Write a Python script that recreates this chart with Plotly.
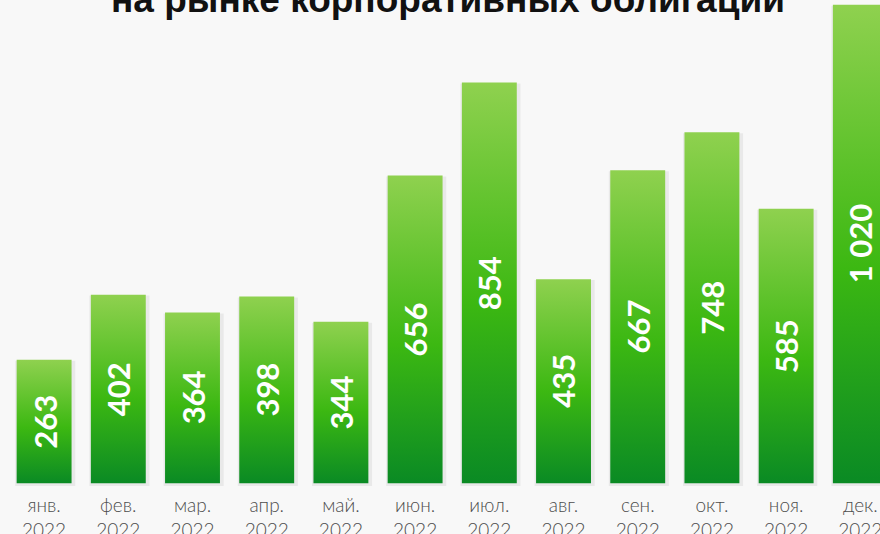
import plotly.graph_objects as go

months = ["янв.", "фев.", "мар.", "апр.", "май.", "июн.", "июл.", "авг.", "сен.", "окт.", "ноя.", "дек."]
year = "2022"
values = [263, 402, 364, 398, 344, 656, 854, 435, 667, 748, 585, 1020]
title_text = "на рынке корпоративных облигаций"

bar_w = 0.74
green_scale = [[0, "#0a8a24"], [0.45, "#3cb812"], [1, "#8fd14f"]]

fig = go.Figure()

# мягкая тень под столбцами
for i, v in enumerate(values):
    x0, x1 = i - bar_w / 2 - 0.02, i + bar_w / 2 + 0.05
    fig.add_trace(go.Scatter(
        x=[x0, x1, x1, x0, x0],
        y=[-6, -6, v - 2, v - 2, -6],
        mode="lines",
        line=dict(width=0),
        fill="toself",
        fillcolor="rgba(0,0,0,0.06)",
        hoverinfo="skip",
        showlegend=False,
    ))

# градиентные столбцы
for i, v in enumerate(values):
    x0, x1 = i - bar_w / 2, i + bar_w / 2
    fig.add_trace(go.Scatter(
        x=[x0, x1, x1, x0, x0],
        y=[0, 0, v, v, 0],
        mode="lines",
        line=dict(width=0),
        fill="toself",
        fillgradient=dict(type="vertical", colorscale=green_scale),
        hoverinfo="skip",
        showlegend=False,
    ))

# подписи значений (по центру столбца, повернуты)
for i, v in enumerate(values):
    fig.add_annotation(
        x=i, y=v / 2,
        text=f"{v:,}".replace(",", " "),
        textangle=-90,
        showarrow=False,
        font=dict(family="Lato", size=31, color="white", weight="bold"),
    )

fig.add_annotation(
    text=title_text,
    xref="paper", yref="paper",
    x=0.505, y=1 - 22 / 487,
    xanchor="center", yanchor="bottom",
    showarrow=False,
    font=dict(family="Liberation Sans", size=37, color="#111111", weight="bold"),
)

fig.update_layout(
    width=880, height=534,
    margin=dict(l=7, r=0, t=0, b=47, autoexpand=False),
    paper_bgcolor="#f8f8f8",
    plot_bgcolor="#f8f8f8",
    xaxis=dict(
        range=[-0.5, 11.265],
        tickvals=list(range(len(months))),
        ticktext=[f"{m}<br>{year}" for m in months],
        tickfont=dict(family="Lato", size=19, color="#4d4d4d", weight=300),
        ticklabeloverflow="allow",
        ticklabelstandoff=5,
        automargin=False,
        showgrid=False, zeroline=False, showline=False, ticks="",
    ),
    yaxis=dict(
        range=[-8, 1030],
        visible=False,
        automargin=False,
        showgrid=False, zeroline=False,
    ),
)

fig.write_html(
    "out.html",
    config={"displayModeBar": False},
    post_script="document.body.style.margin='0';document.body.style.overflow='hidden';",
)
